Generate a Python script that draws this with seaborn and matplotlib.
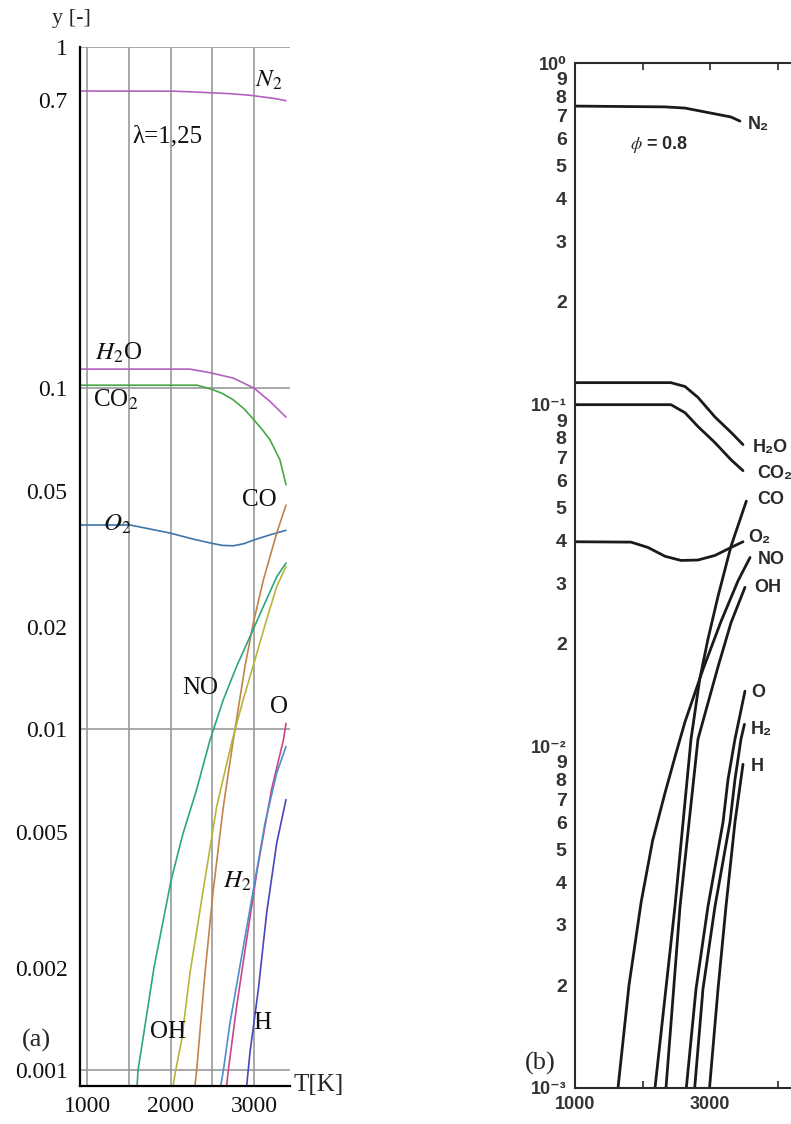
import matplotlib
matplotlib.use("Agg")
import matplotlib.pyplot as plt
import matplotlib.ticker as mticker
import seaborn as sns

# ---------------- panel (a): lambda = 1,25 (mole fraction vs T) ----------------
t_n2_a = [916, 2050, 2400, 2700, 2950, 3100, 3250, 3383]
y_n2_a = [0.743, 0.742, 0.736, 0.730, 0.722, 0.714, 0.706, 0.696]
t_h2o_a = [916, 2233, 2473, 2752, 3000, 3192, 3383]
y_h2o_a = [0.1137, 0.1137, 0.111, 0.107, 0.100, 0.0914, 0.0822]
t_co2_a = [916, 2317, 2489, 2620, 2752, 2880, 3000, 3100, 3192, 3311, 3383]
y_co2_a = [0.102, 0.102, 0.0993, 0.0965, 0.0924, 0.087, 0.0807, 0.0755, 0.0705, 0.0616, 0.0521]
t_o2_a = [916, 1515, 1994, 2250, 2489, 2620, 2752, 2880, 3000, 3200, 3383]
y_o2_a = [0.0397, 0.0397, 0.0376, 0.0362, 0.0351, 0.0346, 0.0345, 0.0350, 0.0359, 0.0372, 0.0383]
t_co_a = [2293, 2313, 2413, 2513, 2633, 2752, 2892, 2992, 3112, 3272, 3383]
y_co_a = [0.0009, 0.001, 0.00193, 0.00339, 0.00594, 0.0093, 0.0153, 0.0205, 0.0274, 0.0376, 0.0454]
t_no_a = [1599, 1611, 1802, 2006, 2145, 2313, 2473, 2632, 2792, 2952, 3112, 3272, 3383]
y_no_a = [0.0009, 0.001, 0.002, 0.0036, 0.0049, 0.00666, 0.0093, 0.0122, 0.0153, 0.0187, 0.0229, 0.028, 0.0307]
t_oh_a = [2030, 2062, 2134, 2233, 2393, 2553, 2740, 2870, 3012, 3152, 3272, 3383]
y_oh_a = [0.0009, 0.001, 0.00123, 0.00193, 0.00339, 0.00594, 0.0093, 0.0122, 0.016, 0.021, 0.0262, 0.0300]
t_o_a = [2672, 2692, 2792, 2912, 3032, 3210, 3352, 3383]
y_o_a = [0.0009, 0.001, 0.00154, 0.00242, 0.00379, 0.00666, 0.0093, 0.0104]
t_h2_a = [2601, 2633, 2713, 2852, 2972, 3132, 3272, 3383]
y_h2_a = [0.0009, 0.001, 0.00138, 0.00216, 0.00317, 0.00531, 0.00744, 0.0089]
t_h_a = [2912, 2952, 3052, 3152, 3272, 3383]
y_h_a = [0.0009, 0.00113, 0.00173, 0.0029, 0.00464, 0.00622]

# ---------------- panel (b): phi = 0.8 (textbook figure) ----------------
t_n2_b = [1000, 2333, 2630, 2926, 3311, 3444]
y_n2_b = [0.748, 0.744, 0.738, 0.719, 0.695, 0.676]
t_h2o_b = [1000, 2420, 2630, 2822, 3074, 3311, 3489]
y_h2o_b = [0.116, 0.116, 0.113, 0.105, 0.092, 0.083, 0.0764]
t_co2_b = [1000, 2422, 2630, 2822, 3074, 3311, 3489]
y_co2_b = [0.1, 0.1, 0.0947, 0.0863, 0.0774, 0.069, 0.0641]
t_o2_b = [1000, 1830, 2081, 2333, 2570, 2822, 3074, 3311, 3489]
y_o2_b = [0.0397, 0.0396, 0.0382, 0.036, 0.035, 0.0351, 0.0362, 0.0382, 0.0397]
t_co_b = [2185, 2481, 2719, 2847, 2970, 3119, 3311, 3538]
y_co_b = [0.001, 0.0034, 0.0105, 0.0157, 0.0206, 0.0275, 0.0385, 0.0522]
t_no_b = [1637, 1800, 1980, 2150, 2333, 2500, 2630, 2896, 3163, 3415, 3593]
y_no_b = [0.001, 0.002, 0.0035, 0.0053, 0.0073, 0.0096, 0.0118, 0.0168, 0.0232, 0.0305, 0.0357]
t_oh_b = [2348, 2556, 2822, 3119, 3311, 3518]
y_oh_b = [0.001, 0.0034, 0.0105, 0.0171, 0.023, 0.0292]
t_o_b = [2649, 2793, 2970, 3193, 3267, 3370, 3518]
y_o_b = [0.001, 0.00195, 0.0034, 0.006, 0.008, 0.0105, 0.0145]
t_h2_b = [2773, 2896, 3074, 3296, 3370, 3459, 3510]
y_h2_b = [0.001, 0.00195, 0.0034, 0.006, 0.008, 0.0105, 0.0116]
t_h_b = [2993, 3119, 3237, 3370, 3489]
y_h_b = [0.001, 0.00195, 0.0034, 0.006, 0.00886]

yticks_a = [1, 0.1, 0.01, 0.001]
yminor_a = [0.7, 0.05, 0.02, 0.005, 0.002]
xticks_a = [1000, 2000, 3000]
xgrid_a = [1500, 2500]

sns.set_theme(style="white")
plt.rcParams["mathtext.fontset"] = "stix"
plt.rcParams["font.family"] = ["Liberation Serif", "DejaVu Serif"]

fig = plt.figure(figsize=(7.91, 11.24), dpi=100)

# ---------- left panel ----------
ax = fig.add_axes([80 / 791, 1 - 1086 / 1124, 210 / 791, (1086 - 47) / 1124])
series_a = [
    (t_n2_a, y_n2_a, "#b45fc2"),
    (t_h2o_a, y_h2o_a, "#b45fc2"),
    (t_co2_a, y_co2_a, "#45a845"),
    (t_o2_a, y_o2_a, "#3f74ad"),
    (t_co_a, y_co_a, "#c2834c"),
    (t_no_a, y_no_a, "#2ba77d"),
    (t_oh_a, y_oh_a, "#b7b63a"),
    (t_o_a, y_o_a, "#cc4585"),
    (t_h2_a, y_h2_a, "#4b8fcf"),
    (t_h_a, y_h_a, "#4646bf"),
]
for tt, yy, c in series_a:
    sns.lineplot(x=tt, y=yy, ax=ax, color=c, linewidth=1.2, estimator=None, sort=False)

ax.set_yscale("log")
ax.set_xlim(916, 3431)
ax.set_ylim(0.0009, 1)
ax.yaxis.set_major_locator(mticker.FixedLocator(yticks_a))
ax.yaxis.set_minor_locator(mticker.FixedLocator(yminor_a))
ax.yaxis.set_major_formatter(mticker.FixedFormatter(["1", "0.1", "0.01", "0.001"]))
ax.yaxis.set_minor_formatter(mticker.FixedFormatter(["0.7", "0.05", "0.02", "0.005", "0.002"]))
ax.xaxis.set_major_locator(mticker.FixedLocator(xticks_a))
ax.xaxis.set_minor_locator(mticker.FixedLocator(xgrid_a))
ax.xaxis.set_major_formatter(mticker.FixedFormatter(["1000", "2000", "3000"]))
ax.grid(True, axis="y", which="major", color="#999999", linewidth=1.2)
ax.grid(True, axis="x", which="both", color="#999999", linewidth=1.2)
ax.set_axisbelow(True)
for s in ["top", "right"]:
    ax.spines[s].set_visible(False)
for s in ["left", "bottom"]:
    ax.spines[s].set_color("black")
    ax.spines[s].set_linewidth(1.6)
ax.tick_params(axis="y", which="both", direction="in", length=5, width=1.1,
               color="black", labelsize=17, pad=9, labelcolor="#111111")
ax.tick_params(axis="x", which="major", direction="in", length=5, width=1.1,
               color="black", labelsize=17, pad=7, labelcolor="#111111")
ax.tick_params(axis="x", which="minor", length=0)
ax.set_xlabel("")
ax.set_ylabel("")

lab = dict(fontsize=18, color="#111111", va="center", ha="left")
ax.text(3012, 0.80, "$N_2$", **lab)
ax.text(1539, 0.545, "λ=1,25", **lab)
ax.text(1096, 0.127, "$H_2$O", **lab)
ax.text(1072, 0.0925, "CO$_2$", **lab)
ax.text(1192, 0.0398, "$O_2$", **lab)
ax.text(2856, 0.0471, "CO", **lab)
ax.text(2138, 0.0132, "NO", **lab)
ax.text(3192, 0.0116, "O", **lab)
ax.text(2629, 0.00358, "$H_2$", **lab)
ax.text(1754, 0.0013, "OH", **lab)
ax.text(2988, 0.00138, "H", **lab)

fig.text(52 / 791, 1 - 18 / 1124, "y [-]", fontsize=16, va="center", ha="left")
fig.text(293 / 791, 1 - 1085 / 1124, "T[K]", fontsize=18, va="center", ha="left")
fig.text(22 / 791, 1 - 1040 / 1124, "(a)", fontsize=19, va="center", ha="left")
fig.text(525 / 791, 1 - 1063 / 1124, "(b)", fontsize=19, va="center", ha="left")

# ---------- right panel ----------
bx = fig.add_axes([575 / 791, 1 - 1088 / 1124, 270 / 791, (1088 - 63) / 1124])
series_b = [
    (t_n2_b, y_n2_b), (t_h2o_b, y_h2o_b), (t_co2_b, y_co2_b), (t_o2_b, y_o2_b),
    (t_co_b, y_co_b), (t_no_b, y_no_b), (t_oh_b, y_oh_b), (t_o_b, y_o_b),
    (t_h2_b, y_h2_b), (t_h_b, y_h_b),
]
for tt, yy in series_b:
    sns.lineplot(x=tt, y=yy, ax=bx, color="#1a1a1a", linewidth=2.0, estimator=None, sort=False)

bx.set_yscale("log")
bx.set_xlim(1000, 5000)
bx.set_ylim(0.001, 1)
sans = ["Liberation Sans", "DejaVu Sans"]
minor_b = [m * 10.0 ** e for e in (-3, -2, -1) for m in range(2, 10)]
bx.yaxis.set_major_locator(mticker.FixedLocator([1, 0.1, 0.01, 0.001]))
bx.yaxis.set_minor_locator(mticker.FixedLocator(minor_b))
bx.yaxis.set_major_formatter(mticker.FixedFormatter(["10⁰", "10⁻¹", "10⁻²", "10⁻³"]))
bx.yaxis.set_minor_formatter(mticker.FixedFormatter([str(m) for e in (-3, -2, -1) for m in range(2, 10)]))
bx.xaxis.set_major_locator(mticker.FixedLocator([1000, 2000, 3000, 4000]))
bx.xaxis.set_major_formatter(mticker.FixedFormatter(["1000", "", "3000", ""]))
bx.grid(False)
for s in bx.spines.values():
    s.set_color("#2a2a2a")
    s.set_linewidth(1.5)
bx.tick_params(axis="y", which="major", direction="in", length=11, width=1.2,
               color="#2a2a2a", labelsize=13, pad=6, labelcolor="#333333")
bx.tick_params(axis="y", which="minor", direction="in", length=5, width=1.2,
               color="#2a2a2a", labelsize=14, pad=6, labelcolor="#333333")
bx.tick_params(axis="x", which="major", direction="in", length=5, width=1.2,
               color="#2a2a2a", labelsize=13, pad=6, labelcolor="#333333",
               top=True, bottom=True)
for t in bx.get_yticklabels(which="both") + bx.get_xticklabels():
    t.set_family(sans)
    t.set_fontweight("bold")
bx.set_xlabel("")
bx.set_ylabel("")

labb = dict(fontsize=13, color="#2a2a2a", va="center", ha="left", family=sans, fontweight="bold")
bx.text(3563, 0.659, "N₂", **labb)
bx.text(1815, 0.576, "$\\phi$ = 0.8", **labb)
bx.text(3637, 0.0749, "H₂O", **labb)
bx.text(3696, 0.0629, "CO₂", **labb)
bx.text(3696, 0.0527, "CO", **labb)
bx.text(3563, 0.0408, "O₂", **labb)
bx.text(3711, 0.0352, "NO", **labb)
bx.text(3652, 0.0292, "OH", **labb)
bx.text(3607, 0.0144, "O", **labb)
bx.text(3607, 0.0112, "H₂", **labb)
bx.text(3607, 0.00874, "H", **labb)

fig.savefig("out.png", dpi=100)
